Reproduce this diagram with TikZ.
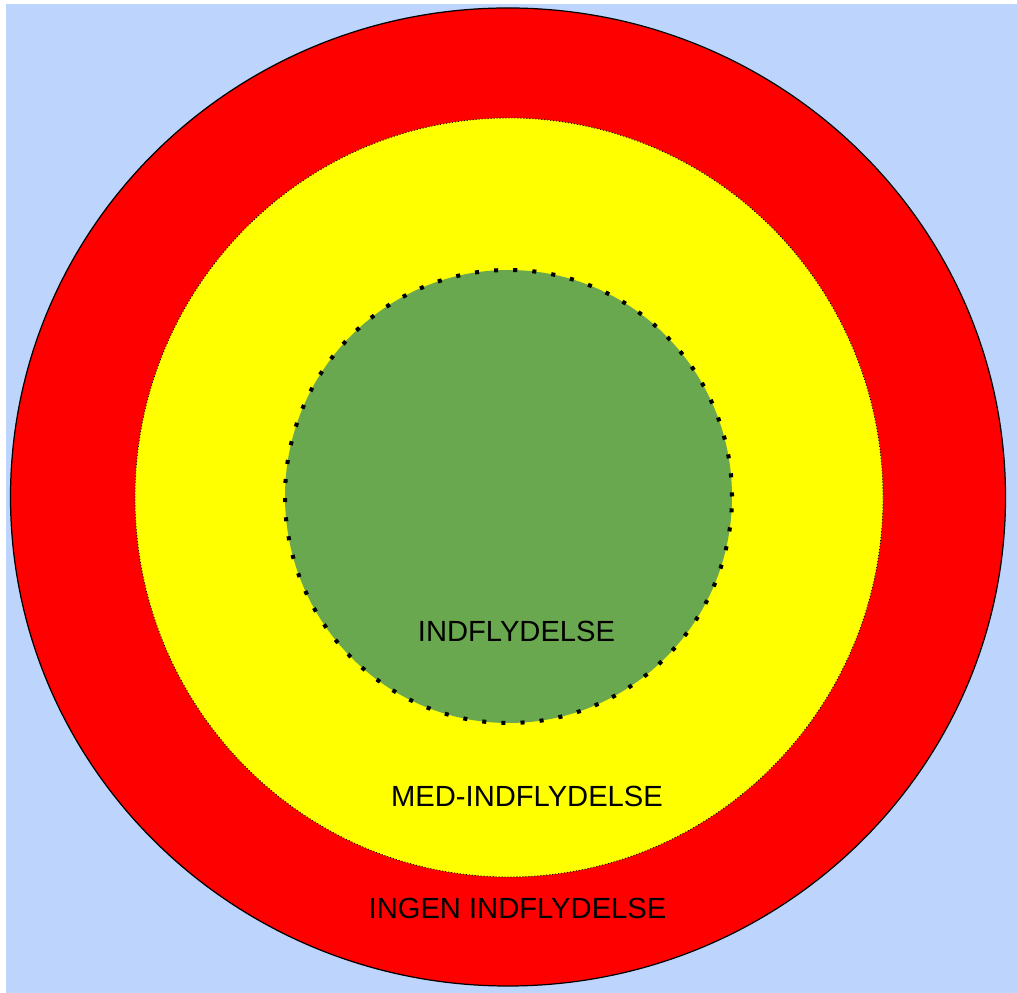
\documentclass[tikz,border=0pt]{standalone}
\usepackage{fontspec}
\setmainfont{Liberation Sans}
\definecolor{skyblue}{HTML}{BDD4FD}
\definecolor{ringred}{HTML}{FF0000}
\definecolor{ringyellow}{HTML}{FFFF00}
\definecolor{ringgreen}{HTML}{6AA84F}

\begin{document}
\begin{tikzpicture}[x=0.02cm,y=0.02cm,
    zonelabel/.style={inner sep=0pt,font=\fontsize{16.6}{20}\selectfont,text=black},
    greenedge/.style={draw=black,line width=2.3pt,dash pattern=on 2.3pt off 8.6pt},
    yellowedge/.style={draw=black,line width=0.5pt,dash pattern=on 0.6pt off 1.1pt}]
      \useasboundingbox (0,0) rectangle (1017,993);
      \fill [skyblue] (6,0) rectangle (1017,989);
      \filldraw [fill=ringred,draw=black,line width=0.7pt] (508,496) ellipse [x radius=497.5,y radius=489];
      \fill [ringyellow] (509,495.5) ellipse [x radius=374,y radius=379.5];
      \draw [yellowedge] (509,495.5) ellipse [x radius=374,y radius=379.5];
      \fill [ringgreen] (508.5,496.5) ellipse [x radius=223.5,y radius=226.5];
      \draw [greenedge] (508.5,496.5) ellipse [x radius=223.5,y radius=226.5];
      \node [zonelabel] (inner) at (516.5,361.5) {INDFLYDELSE};
      \node [zonelabel] (middle) at (527,197) {MED-INDFLYDELSE};
      \node [zonelabel] (outer) at (517.5,85) {INGEN INDFLYDELSE};
    \end{tikzpicture}
\end{document}
